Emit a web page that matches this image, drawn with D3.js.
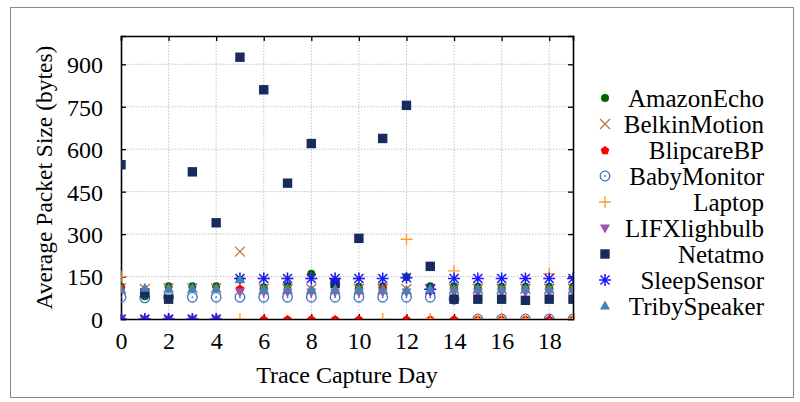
<!DOCTYPE html>
<html>
<head>
<meta charset="utf-8">
<script src="https://cdn.jsdelivr.net/npm/d3@7"></script>
<style>
  body { margin: 0; background: #fff; }
  text { font-family: "Liberation Serif", "DejaVu Serif", serif; fill: #000; }
  .grid line { stroke: #c4c4c4; stroke-dasharray: 1.5,1.5; }
</style>
</head>
<body>
<svg id="chart" width="800" height="402"></svg>
<script>
var days = d3.range(0, 20)
var xTicks = [0, 2, 4, 6, 8, 10, 12, 14, 16, 18]
var yTicks = [0, 150, 300, 450, 600, 750, 900]

var devices = ['AmazonEcho', 'BelkinMotion', 'BlipcareBP', 'BabyMonitor', 'Laptop',
               'LIFXlighbulb', 'Netatmo', 'SleepSensor', 'TribySpeaker']

var amazonEcho   = [114, 80, 116, 116, 116, 140, 112, 118, 160, 125, 114, 116, 148, 116, 116, 114, 114, 114, 114, 114]
var belkinMotion = [108, 106, 108, 108, 108, 238, 106, 106, 106, 106, 106, 106, 106, 106, 106, 106, 106, 106, 106, 106]
var blipcareBP   = [110, 0, 0, 0, 0, 108, 0, 0, 0, 0, 0, 110, 0, 0, 0, 0, 0, 0, 0, 0]
var babyMonitor  = [77, 75, 77, 77, 77, 77, 77, 77, 77, 77, 77, 77, 77, 77, 70, 0, 0, 0, 0, 0]
var laptop       = [150, 0, 0, 0, 0, 0, 143, 143, 143, 143, 143, 0, 282, 0, 170, 0, 0, 0, 160, 0]
var lifxBulb     = [0, 0, 0, 0, 0, 95, 95, 95, 95, 95, 95, 95, 95, 95, 95, 95, 95, 95, 95, 95]
var netatmo      = [545, 92, 70, 520, 340, 925, 810, 480, 620, 126, 285, 638, 755, 186, 70, 70, 70, 66, 70, 70]
var sleepSensor  = [0, 0, 0, 0, 0, 143, 143, 143, 143, 143, 143, 143, 146, 105, 143, 143, 143, 143, 143, 143]
var tribySpeaker = [105, 109, 108, 108, 108, 140, 105, 105, 105, 105, 105, 105, 102, 105, 105, 105, 105, 105, 105, 105]

var seriesValues = [amazonEcho, belkinMotion, blipcareBP, babyMonitor, laptop,
                    lifxBulb, netatmo, sleepSensor, tribySpeaker]

// marker look per series, same order as devices
var markers = [
  {shape: 'dot',      color: '#006400'}
, {shape: 'x',        color: '#c0703a'}
, {shape: 'pentagon', color: '#ff0000'}
, {shape: 'odot',     color: '#3b73c2'}
, {shape: 'plus',     color: '#ff9f30'}
, {shape: 'tridown',  color: '#9b55b0'}
, {shape: 'square',   color: '#182b5f'}
, {shape: 'star',     color: '#1818ff'}
, {shape: 'triup',    color: '#4682b4'}
]

var margin = {left: 121, right: 227, top: 36, bottom: 83}
var width = 800, height = 402
var x = d3.scaleLinear().domain([0, 19]).range([margin.left, width - margin.right])
var y = d3.scaleLinear().domain([0, 1000]).range([height - margin.bottom, margin.top])

var svg = d3.select('#chart')

svg.append('rect')
  .attr('x', 10.5).attr('y', 7.5).attr('width', 783).attr('height', 390)
  .attr('fill', 'none').attr('stroke', '#8a8a8a').attr('stroke-width', 1)

svg.append('defs').append('clipPath').attr('id', 'plotClip')
  .append('rect')
  .attr('x', x(0)).attr('y', y(1000))
  .attr('width', x(19) - x(0)).attr('height', y(0) - y(1000))

// grid
var grid = svg.append('g').attr('class', 'grid')
grid.selectAll('.gx').data(xTicks.filter((d) => d > 0)).enter()
  .append('line')
  .attr('x1', (d) => x(d)).attr('x2', (d) => x(d))
  .attr('y1', y(0)).attr('y2', y(1000))
grid.selectAll('.gy').data(yTicks.filter((d) => d > 0)).enter()
  .append('line')
  .attr('x1', x(0)).attr('x2', x(19))
  .attr('y1', (d) => y(d)).attr('y2', (d) => y(d))

// axes, ticks pointing inward on all four sides
var axisB = svg.append('g').attr('transform', 'translate(0,' + y(0) + ')')
  .call(d3.axisBottom(x).tickValues(xTicks).tickSize(-5).tickPadding(14))
var axisT = svg.append('g').attr('transform', 'translate(0,' + y(1000) + ')')
  .call(d3.axisTop(x).tickValues(xTicks).tickSize(-5).tickFormat(''))
var axisL = svg.append('g').attr('transform', 'translate(' + x(0) + ',0)')
  .call(d3.axisLeft(y).tickValues(yTicks).tickSize(-5).tickPadding(18))
var axisR = svg.append('g').attr('transform', 'translate(' + x(19) + ',0)')
  .call(d3.axisRight(y).tickValues(yTicks).tickSize(-5).tickFormat(''))

;[axisB, axisT, axisL, axisR].forEach((a) => {
  a.select('.domain').attr('stroke', '#000').attr('stroke-width', 1.6)
  a.selectAll('.tick line').attr('stroke', '#000').attr('stroke-width', 1.3)
  a.selectAll('text').attr('font-size', 24).attr('font-family', '"Liberation Serif", serif')
})
axisB.selectAll('text').attr('dy', '0.68em')
axisL.selectAll('text').attr('dy', '0.35em')

svg.append('text')
  .attr('x', (x(0) + x(19)) / 2).attr('y', 383)
  .attr('text-anchor', 'middle').attr('font-size', 24)
  .text('Trace Capture Day')

svg.append('text')
  .attr('transform', 'translate(52,' + (y(0) + y(1000)) / 2 + ') rotate(-90)')
  .attr('text-anchor', 'middle').attr('font-size', 23.5)
  .text('Average Packet Size (bytes)')

function drawMarker(g, shape, color) {
  if (shape === 'dot') {
    g.append('circle').attr('r', 4).attr('fill', color)
  } else if (shape === 'x') {
    g.append('path').attr('d', 'M-5,-5L5,5M-5,5L5,-5')
      .attr('stroke', color).attr('stroke-width', 1.2).attr('fill', 'none')
  } else if (shape === 'plus') {
    g.append('path').attr('d', 'M-6,0H6M0,-6V6')
      .attr('stroke', color).attr('stroke-width', 1.4).attr('fill', 'none')
  } else if (shape === 'star') {
    g.append('path').attr('d', 'M-6,0H6M0,-6V6M-4.5,-4.5L4.5,4.5M-4.5,4.5L4.5,-4.5')
      .attr('stroke', color).attr('stroke-width', 1.5).attr('fill', 'none')
  } else if (shape === 'odot') {
    g.append('circle').attr('r', 4.8).attr('fill', 'none')
      .attr('stroke', color).attr('stroke-width', 1.3)
    g.append('circle').attr('r', 0.9).attr('fill', color)
  } else if (shape === 'square') {
    g.append('rect').attr('x', -4.7).attr('y', -4.7).attr('width', 9.4).attr('height', 9.4)
      .attr('fill', color)
  } else if (shape === 'pentagon') {
    var pts = d3.range(5).map((i) => {
      var a = -Math.PI / 2 + i * 2 * Math.PI / 5
      return [4.6 * Math.cos(a), 4.6 * Math.sin(a) + 0.6]
    })
    g.append('polygon').attr('points', pts.join(' ')).attr('fill', color)
  } else if (shape === 'triup') {
    g.append('path').attr('d', 'M0,-5.5L5,3.5L-5,3.5Z').attr('fill', color)
  } else if (shape === 'tridown') {
    g.append('path').attr('d', 'M0,5.5L5,-3.5L-5,-3.5Z').attr('fill', color)
  }
}

var plot = svg.append('g').attr('clip-path', 'url(#plotClip)')

seriesValues.forEach((vals, si) => {
  var m = markers[si]
  var pts = plot.append('g').attr('class', 'series-' + devices[si])
    .selectAll('g').data(vals).enter()
    .append('g')
    .attr('transform', (d, i) => 'translate(' + x(days[i]) + ',' + y(d) + ')')
  pts.each(function() { drawMarker(d3.select(this), m.shape, m.color) })
})

// legend
var legend = svg.append('g')
devices.forEach((name, i) => {
  var ly = 98 + i * 26
  var g = legend.append('g').attr('transform', 'translate(605,' + ly + ')')
  drawMarker(g, markers[i].shape, markers[i].color)
  legend.append('text')
    .attr('x', 764).attr('y', ly).attr('dy', '0.35em')
    .attr('text-anchor', 'end').attr('font-size', 25)
    .text(name)
})
</script>
</body>
</html>
